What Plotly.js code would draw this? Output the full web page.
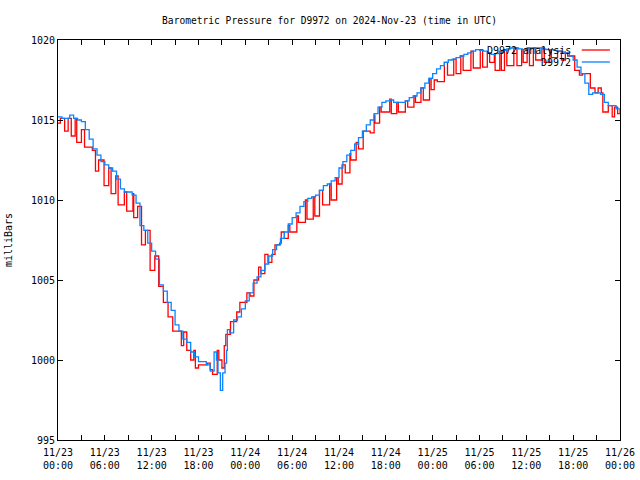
<!DOCTYPE html>
<html>
<head>
<meta charset="utf-8">
<script src="https://cdn.plot.ly/plotly-3.0.1.min.js"></script>
<style>html,body{margin:0;padding:0;background:#fff;}#chart{width:640px;height:480px;}</style>
</head>
<body>
<div id="chart"></div>
<script>
// Hours since 2024-11-23 00:00 UTC
const blueHours = [0,0.5,1,1.5,2,2.5,3,3.5,4,4.5,5,5.5,6,6.5,7,7.5,8,8.5,9,9.5,10,10.5,11,11.5,12,12.5,13,13.5,14,14.5,15,15.5,16,16.5,17,17.5,18,18.5,19,19.5,20,20.3,20.5,20.8,21.1,21.4,21.6,21.7,22,22.5,23,23.5,24,24.5,25,25.5,26,26.5,27,27.5,28,28.5,29,29.5,30,30.5,31,31.5,32,32.5,33,33.5,34,34.5,35,35.5,36,36.5,37,37.5,38,38.5,39,39.5,40,40.5,41,41.5,42,42.5,43,43.5,44,44.5,45,45.5,46,46.5,47,47.5,48,48.5,49,49.5,50,50.5,51,51.5,52,52.5,53,53.5,54,54.5,55,55.5,56,56.5,57,57.5,58,58.5,59,59.5,60,60.5,61,61.5,62,62.5,63,63.5,64,64.5,65,65.5,66,66.5,67,67.5,68,68.5,69,69.5,70,70.5,71,71.5,72];
const blueValues = [1015.2,1015.1,1015.1,1015.3,1015.1,1015.0,1014.9,1014.4,1013.8,1013.2,1012.8,1012.4,1012.2,1012.0,1011.8,1011.3,1010.7,1010.5,1010.5,1010.3,1009.8,1008.4,1008.1,1007.3,1006.8,1006.3,1004.7,1004.3,1003.6,1003.1,1002.2,1001.8,1001.3,1001.1,1000.5,1000.2,999.9,999.9,999.7,999.3,1000.5,1000.0,999.2,998.1,999.2,999.8,1000.6,1001.9,1001.7,1002.5,1002.7,1003.2,1003.7,1004.2,1004.8,1005.2,1005.6,1006.0,1006.5,1006.9,1007.2,1007.6,1008.0,1008.5,1008.9,1009.2,1009.6,1009.9,1010.1,1010.2,1010.3,1010.6,1010.9,1011.0,1011.2,1011.4,1012.0,1012.4,1012.8,1013.1,1013.5,1013.9,1014.3,1014.7,1015.0,1015.4,1015.8,1016.1,1016.2,1016.25,1016.1,1016.1,1016.1,1016.2,1016.4,1016.5,1016.7,1017.0,1017.3,1017.6,1017.9,1018.2,1018.4,1018.6,1018.75,1018.8,1018.9,1019.0,1019.1,1019.2,1019.3,1019.4,1019.35,1019.3,1019.2,1019.1,1019.15,1019.25,1019.35,1019.45,1019.5,1019.5,1019.45,1019.4,1019.45,1019.5,1019.5,1019.5,1019.45,1019.4,1019.4,1019.35,1019.3,1019.25,1019.2,1019.0,1018.75,1018.3,1017.9,1017.3,1016.6,1016.7,1016.7,1016.6,1016.1,1015.9,1015.9,1015.7,1015.4];

const redHours = [0,0.3,0.85,1.3,1.7,2.2,2.4,3.0,3.4,4.4,4.8,5.2,5.9,6.5,6.8,7.4,7.7,8.5,8.8,9.6,9.7,10.2,10.7,11.2,11.8,12.4,12.9,13.5,14.1,14.7,15.8,16.1,16.5,17.0,17.4,17.6,18.0,19.1,19.5,19.8,20.4,20.6,21.0,21.3,21.5,22.1,22.9,23.3,24.2,24.6,25.1,25.7,26.0,26.5,26.9,27.4,27.8,28.4,28.6,29.0,29.5,29.7,30.6,30.8,31.7,31.9,32.7,32.9,33.5,33.9,34.8,35.0,35.7,35.9,36.4,36.8,37.4,37.5,38.2,38.5,39.1,40.0,40.5,40.6,41.2,41.4,42.5,42.7,43.4,43.6,44.5,44.8,45.6,45.8,46.5,46.8,47.6,47.8,48.2,48.6,49.5,49.9,50.7,51.0,51.6,51.9,52.9,53.2,54.1,54.4,55.0,55.3,55.9,56.0,56.6,56.8,57.2,57.5,58.4,58.8,59.4,59.6,60.1,60.4,60.9,61.2,62.0,62.3,63.0,63.2,64.0,64.5,65.0,65.3,66.2,66.8,67.2,68.2,68.8,69.2,69.6,69.8,70.5,71.0,71.3,71.7,72.0];
const redValues = [1014.8,1015.1,1014.3,1015.1,1014.0,1015.1,1013.6,1014.4,1013.3,1013.1,1011.8,1012.5,1010.9,1012.0,1010.4,1011.5,1009.7,1010.5,1009.3,1010.4,1008.9,1009.6,1007.2,1008.1,1005.6,1006.5,1004.6,1003.6,1002.7,1001.8,1000.9,1001.75,1000.6,1000.0,1000.6,999.5,999.7,999.8,999.4,999.1,1000.6,1000.0,999.5,1000.9,1001.6,1002.4,1003.0,1003.6,1004.2,1004.0,1005.0,1005.8,1005.4,1006.6,1006.1,1006.6,1007.2,1007.3,1008.0,1007.6,1008.4,1008.0,1009.0,1008.6,1010.0,1008.8,1010.2,1009.0,1010.6,1009.7,1011.0,1010.0,1011.4,1011.0,1012.2,1011.7,1012.9,1012.5,1013.6,1013.2,1014.3,1014.2,1015.3,1014.8,1015.8,1015.5,1016.3,1015.4,1016.1,1015.5,1016.2,1015.8,1016.5,1016.1,1017.0,1016.25,1017.6,1016.9,1017.5,1017.4,1018.6,1017.8,1018.8,1017.9,1019.0,1018.1,1019.3,1018.25,1019.4,1018.3,1019.2,1018.6,1019.1,1018.1,1019.3,1018.1,1019.4,1018.4,1019.5,1018.4,1019.4,1018.6,1019.5,1018.4,1019.5,1018.75,1019.5,1018.6,1019.4,1018.9,1019.3,1018.75,1019.2,1019.0,1018.1,1017.8,1017.9,1017.0,1016.7,1017.0,1016.7,1015.5,1015.9,1015.2,1015.8,1015.4,1015.4];

const tickHours = [0,3,6,9,12,15,18,21,24,27,30,33,36,39,42,45,48,51,54,57,60,63,66,69,72];
const tickLabels = ["11/23<br>00:00","","11/23<br>06:00","","11/23<br>12:00","","11/23<br>18:00","","11/24<br>00:00","","11/24<br>06:00","","11/24<br>12:00","","11/24<br>18:00","","11/25<br>00:00","","11/25<br>06:00","","11/25<br>12:00","","11/25<br>18:00","","11/26<br>00:00"];
const yTicks = [995,1000,1005,1010,1015,1020];

const seriesNames = ["D9972 analysis","D9972"];
const seriesColors = ["#ff0000","#0a84ff"];

const mono = "DejaVu Sans Mono, Liberation Mono, monospace";

const traces = [
  {x: redHours, y: redValues, type: "scatter", mode: "lines", line: {color: seriesColors[0], width: 1.3, shape: "hv"}, name: seriesNames[0], hoverinfo: "skip"},
  {x: blueHours, y: blueValues, type: "scatter", mode: "lines", line: {color: seriesColors[1], width: 1.3, shape: "hv"}, name: seriesNames[1], hoverinfo: "skip"}
];

const layout = {
  width: 640, height: 480,
  margin: {l: 58, r: 20, t: 40, b: 40, pad: 0},
  paper_bgcolor: "#ffffff", plot_bgcolor: "#ffffff",
  showlegend: false,
  font: {family: mono, size: 10, color: "#000"},
  title: {text: "Barometric Pressure for D9972 on 2024-Nov-23 (time in UTC)", x: 0.515, xanchor: "center", y: 0.958, yanchor: "middle", font: {family: mono, size: 9.6, color: "#000"}},
  xaxis: {
    range: [0, 72], tickmode: "array", tickvals: tickHours, ticktext: tickLabels,
    ticks: "inside", ticklen: 5, tickwidth: 1, tickcolor: "#000", ticklabelstandoff: 3,
    showline: true, linecolor: "#000", linewidth: 1, mirror: "allticks",
    showgrid: false, zeroline: false, tickfont: {family: mono, size: 10, color: "#000"}, fixedrange: true
  },
  yaxis: {
    range: [995, 1020], tickmode: "array", tickvals: yTicks, ticktext: yTicks.map(String),
    ticks: "inside", ticklen: 5, tickwidth: 1, tickcolor: "#000",
    showline: true, linecolor: "#000", linewidth: 1, mirror: "allticks",
    showgrid: false, zeroline: false, tickfont: {family: mono, size: 10, color: "#000"},
    title: {text: "milliBars", standoff: 16, font: {family: mono, size: 10, color: "#000"}}, fixedrange: true
  },
  annotations: [
    {xref: "paper", yref: "paper", x: 0.916, y: 0.975, xanchor: "right", yanchor: "middle", text: seriesNames[0], showarrow: false, font: {family: mono, size: 10, color: "#000"}},
    {xref: "paper", yref: "paper", x: 0.916, y: 0.945, xanchor: "right", yanchor: "middle", text: seriesNames[1], showarrow: false, font: {family: mono, size: 10, color: "#000"}}
  ],
  shapes: [
    {type: "line", xref: "paper", yref: "paper", x0: 0.932, x1: 0.982, y0: 0.975, y1: 0.975, line: {color: seriesColors[0], width: 1.3}},
    {type: "line", xref: "paper", yref: "paper", x0: 0.932, x1: 0.982, y0: 0.945, y1: 0.945, line: {color: seriesColors[1], width: 1.3}}
  ]
};

Plotly.newPlot("chart", traces, layout, {staticPlot: true, displayModeBar: false});
</script>
</body>
</html>
